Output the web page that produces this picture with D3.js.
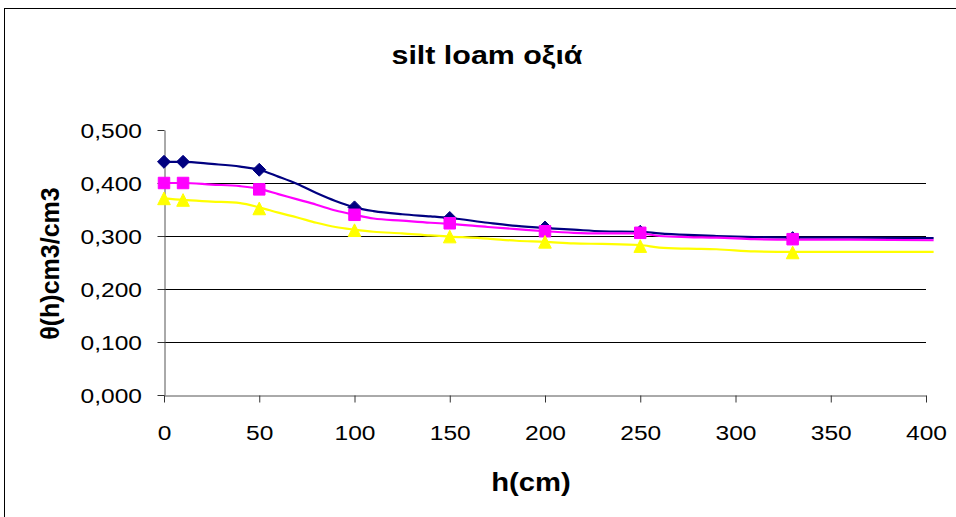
<!DOCTYPE html>
<html>
<head>
<meta charset="utf-8">
<script src="https://cdn.jsdelivr.net/npm/d3@7"></script>
<style>
  html, body { margin: 0; padding: 0; background: #fff; }
  svg { display: block; font-family: "Liberation Sans", Arial, sans-serif; }
</style>
</head>
<body>
<svg id="chart" width="956" height="517"></svg>
<script>
// Water retention curves θ(h) — silt loam, beech stand
const titleText = "silt loam οξιά";
const xTitle = "h(cm)";
const yTitle = "θ(h)cm3/cm3";

// tick values
const xTicks = [0, 50, 100, 150, 200, 250, 300, 350, 400];
const yTicks = [0, 0.1, 0.2, 0.3, 0.4, 0.5];

// measured points (markers)
const hMeasured = [0, 10, 50, 100, 150, 200, 250, 330];
const thetaA = [0.440, 0.440, 0.425, 0.354, 0.334, 0.316, 0.308, 0.296];
const thetaB = [0.400, 0.400, 0.388, 0.340, 0.324, 0.309, 0.306, 0.294];
const thetaC = [0.371, 0.368, 0.352, 0.311, 0.299, 0.289, 0.281, 0.269];

// fitted curves (lines)
const hCurve = [0, 10, 25, 40, 50, 60, 70, 80, 90, 100, 110, 125, 140, 150, 170, 185, 200, 215, 230, 250, 260, 275, 290, 310, 330, 360, 404];
const curveA = [0.440, 0.440, 0.436, 0.431, 0.425, 0.412, 0.398, 0.381, 0.366, 0.354, 0.347, 0.341, 0.337, 0.334, 0.325, 0.319, 0.315, 0.312, 0.309, 0.308, 0.305, 0.302, 0.300, 0.298, 0.297, 0.297, 0.296];
const curveB = [0.400, 0.400, 0.397, 0.394, 0.389, 0.379, 0.369, 0.359, 0.348, 0.340, 0.333, 0.329, 0.325, 0.323, 0.317, 0.313, 0.309, 0.306, 0.305, 0.305, 0.300, 0.298, 0.297, 0.294, 0.293, 0.293, 0.292];
const curveC = [0.371, 0.368, 0.365, 0.362, 0.354, 0.344, 0.335, 0.325, 0.317, 0.312, 0.308, 0.305, 0.301, 0.299, 0.295, 0.291, 0.289, 0.286, 0.285, 0.283, 0.278, 0.276, 0.275, 0.271, 0.270, 0.270, 0.270];

// marker shapes: equal-sided diamond, square, box-centred triangle
const diamond = {
  draw(ctx, size) {
    const r = Math.sqrt(size / 2);
    ctx.moveTo(0, -r); ctx.lineTo(r, 0); ctx.lineTo(0, r); ctx.lineTo(-r, 0); ctx.closePath();
  }
};
const triangle = {
  draw(ctx, size) {
    const r = Math.sqrt(size) / 2;
    ctx.moveTo(0, -r); ctx.lineTo(r, r); ctx.lineTo(-r, r); ctx.closePath();
  }
};

const series = [
  { curve: curveA, points: thetaA, color: "#000080", symbol: diamond, size: 84 },
  { curve: curveB, points: thetaB, color: "#FF00FF", symbol: d3.symbolSquare, size: 132 },
  { curve: curveC, points: thetaC, color: "#FFFF00", symbol: triangle, size: 160 }
];

const svg = d3.select("#chart");
const W = 956, H = 517;
const SX = 1.17; // horizontal text stretch

// chart frame
svg.append("rect")
  .attr("x", 4.5).attr("y", 8.5)
  .attr("width", W + 20).attr("height", H + 20)
  .attr("fill", "#fff").attr("stroke", "#000").attr("stroke-width", 1);

const plot = { left: 164, right: 926, top: 130, bottom: 395 };

const x = d3.scaleLinear().domain([0, 400]).range([plot.left, plot.right]);
const y = d3.scaleLinear().domain([0, 0.5]).range([plot.bottom, plot.top]);

const fmt = v => d3.format(".3f")(v).replace(".", ",");

// horizontal gridlines
svg.append("g")
  .selectAll("line")
  .data(yTicks.filter(v => v > 0 && v < 0.5))
  .join("line")
  .attr("x1", plot.left).attr("x2", plot.right)
  .attr("y1", d => Math.round(y(d)) + 0.5).attr("y2", d => Math.round(y(d)) + 0.5)
  .attr("stroke", "#000").attr("stroke-width", 1);

// y axis
const yAxis = svg.append("g")
  .attr("transform", `translate(${plot.left + 0.5},0)`)
  .call(d3.axisLeft(y).tickValues(yTicks).tickFormat(fmt).tickSize(7).tickSizeOuter(0));
yAxis.select(".domain").attr("stroke", "#555");
yAxis.selectAll(".tick line").attr("stroke", "#333");
yAxis.selectAll(".tick text")
  .attr("x", 0).attr("dy", "0.36em")
  .attr("transform", `translate(-22.5,0) scale(${SX},1)`)
  .attr("font-size", 21).attr("fill", "#000")
  .attr("font-family", "'Liberation Sans', Arial, sans-serif");

// x axis
const xAxis = svg.append("g")
  .attr("transform", `translate(0,${plot.bottom + 0.5})`)
  .call(d3.axisBottom(x).tickValues(xTicks).tickFormat(d3.format("d")).tickSize(7).tickSizeOuter(0));
xAxis.select(".domain").attr("stroke", "#555");
xAxis.selectAll(".tick line").attr("stroke", "#333");
xAxis.selectAll(".tick text")
  .attr("y", 0).attr("dy", 0)
  .attr("transform", `translate(0,44) scale(${SX},1)`)
  .attr("font-size", 21).attr("fill", "#000")
  .attr("font-family", "'Liberation Sans', Arial, sans-serif");

// curves
const line = d3.line()
  .x(d => x(d[0]))
  .y(d => y(d[1]))
  .curve(d3.curveMonotoneX);

series.forEach(s => {
  svg.append("path")
    .datum(hCurve.map((h, i) => [h, s.curve[i]]))
    .attr("d", line)
    .attr("fill", "none")
    .attr("stroke", s.color)
    .attr("stroke-width", 2.2);
});

// markers
series.forEach(s => {
  const sym = d3.symbol().type(s.symbol).size(s.size);
  svg.append("g")
    .selectAll("path")
    .data(hMeasured.map((h, i) => [h, s.points[i]]))
    .join("path")
    .attr("transform", d => `translate(${x(d[0])},${y(d[1])})`)
    .attr("d", sym)
    .attr("fill", s.color)
    .attr("stroke", s.color)
    .attr("stroke-width", 1);
});

// title
svg.append("text")
  .attr("transform", `translate(487,64) scale(${SX},1)`)
  .attr("text-anchor", "middle")
  .attr("font-size", 26).attr("font-weight", "bold")
  .text(titleText);

// axis titles
svg.append("text")
  .attr("transform", `translate(531,491) scale(${SX},1)`)
  .attr("text-anchor", "middle")
  .attr("font-size", 25).attr("font-weight", "bold")
  .text(xTitle);

svg.append("text")
  .attr("transform", `translate(59,${(plot.top + plot.bottom) / 2 + 1}) rotate(-90)`)
  .attr("text-anchor", "middle")
  .attr("font-size", 25).attr("font-weight", "bold")
  .text(yTitle);
</script>
</body>
</html>
